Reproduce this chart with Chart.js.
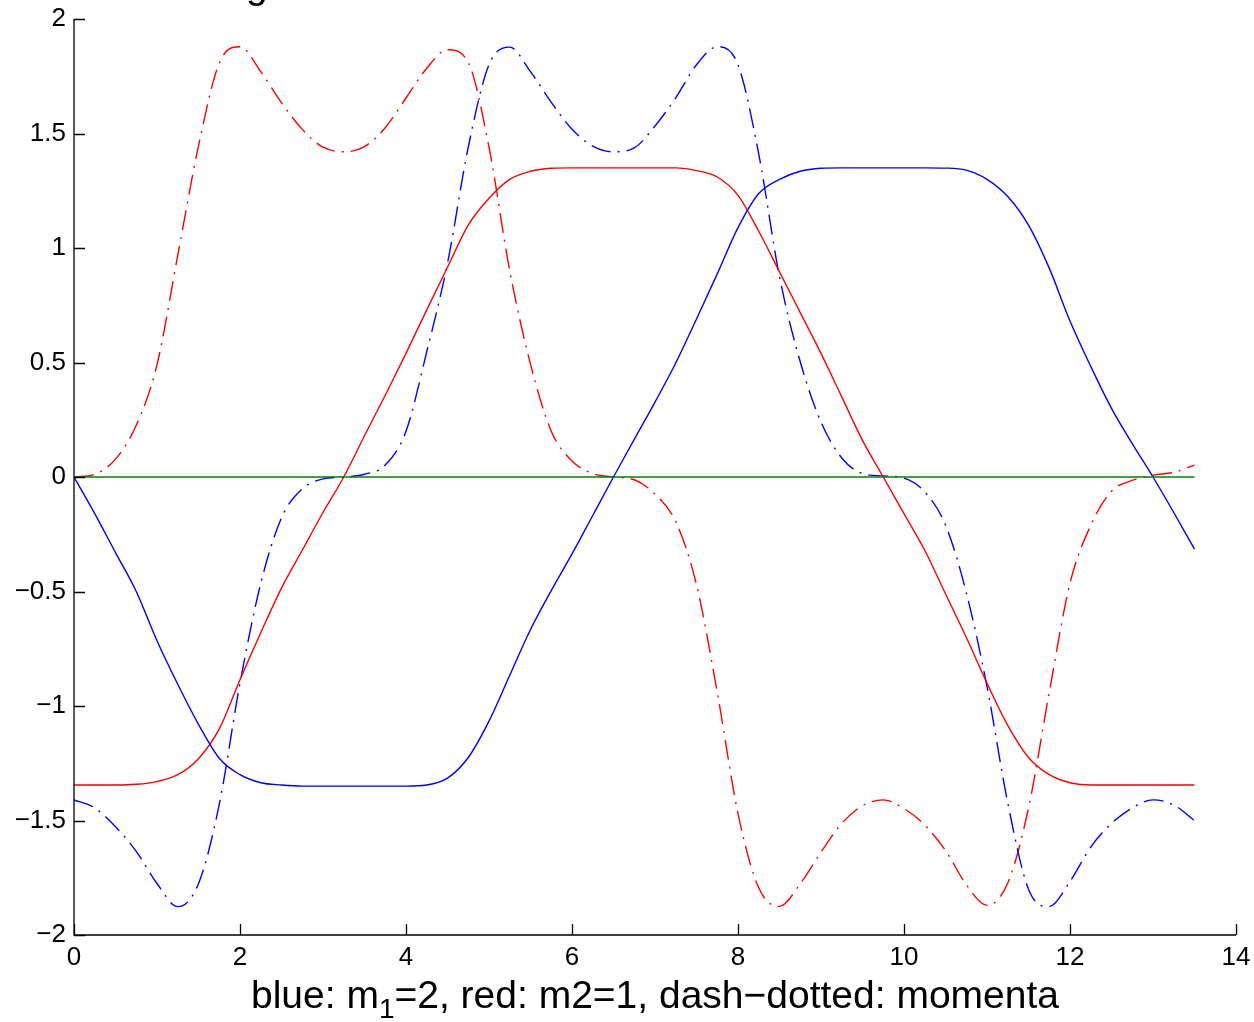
<!DOCTYPE html>
<html>
<head>
<meta charset="utf-8">
<script src="https://cdn.jsdelivr.net/npm/chart.js@4.4.0/dist/chart.umd.min.js"></script>
<style>
  html, body { margin: 0; padding: 0; background: #fff; }
  #plot { display: block; }
</style>
</head>
<body>
<canvas id="plot" width="1254" height="1022" style="width:1254px;height:1022px"></canvas>
<script>
// time samples
const t = [0, 0.25, 0.5, 0.75, 1, 1.25, 1.5, 1.75, 2, 2.25, 2.5, 2.75, 3, 3.25, 3.5, 3.75,
  4, 4.25, 4.5, 4.75, 5, 5.25, 5.5, 5.75, 6, 6.25, 6.5, 6.75, 7, 7.25, 7.5, 7.75,
  8, 8.25, 8.5, 8.75, 9, 9.25, 9.5, 9.75, 10, 10.25, 10.5, 10.75, 11, 11.25, 11.5, 11.75,
  12, 12.25, 12.5, 12.75, 13, 13.25, 13.5];

// positions
const q1 = [0, -0.16, -0.33, -0.5, -0.715, -0.905, -1.08, -1.228, -1.3, -1.335, -1.345, -1.35, -1.35, -1.35, -1.35, -1.35,
  -1.35, -1.345, -1.315, -1.225, -1.066, -0.866, -0.666, -0.496, -0.336, -0.168, 0, 0.164, 0.327, 0.498, 0.69, 0.887,
  1.089, 1.238, 1.3, 1.335, 1.348, 1.35, 1.35, 1.35, 1.35, 1.35, 1.349, 1.34, 1.3, 1.225, 1.1, 0.912,
  0.681, 0.483, 0.3, 0.146, 0, -0.155, -0.315];
const q2 = [-1.345, -1.345, -1.345, -1.342, -1.33, -1.3, -1.23, -1.1, -0.885, -0.68, -0.485, -0.32, -0.155, 0, 0.18, 0.357,
  0.54, 0.73, 0.916, 1.1, 1.217, 1.3, 1.335, 1.348, 1.35, 1.35, 1.35, 1.35, 1.35, 1.35, 1.338, 1.31,
  1.23, 1.073, 0.896, 0.718, 0.54, 0.35, 0.16, 0, -0.16, -0.32, -0.51, -0.7, -0.9, -1.085, -1.225, -1.3,
  -1.335, -1.345, -1.345, -1.345, -1.345, -1.345, -1.345];

// momenta
const p1 = [-1.41, -1.445, -1.527, -1.635, -1.775, -1.876, -1.776, -1.43, -0.9, -0.465, -0.178, -0.052, -0.008, 0, 0.012, 0.052,
  0.2, 0.547, 0.933, 1.44, 1.8, 1.877, 1.77, 1.636, 1.519, 1.445, 1.42, 1.437, 1.533, 1.656, 1.8, 1.879,
  1.8, 1.41, 0.875, 0.503, 0.24, 0.083, 0.015, 0.005, -0.005, -0.065, -0.21, -0.504, -0.915, -1.423, -1.8, -1.876,
  -1.766, -1.616, -1.513, -1.445, -1.41, -1.432, -1.5];
const p2 = [0, 0.012, 0.078, 0.226, 0.49, 0.968, 1.446, 1.807, 1.879, 1.77, 1.634, 1.518, 1.44, 1.42, 1.443, 1.525,
  1.655, 1.785, 1.866, 1.81, 1.44, 0.9, 0.493, 0.2, 0.07, 0.015, 0, -0.012, -0.075, -0.195, -0.47, -0.94,
  -1.47, -1.794, -1.875, -1.776, -1.638, -1.513, -1.435, -1.41, -1.448, -1.52, -1.631, -1.78, -1.87, -1.773, -1.446, -0.94,
  -0.464, -0.211, -0.062, -0.015, 0.008, 0.02, 0.052];
const zeroLine = t.map(() => 0);

const xLabelParts = ['blue: m', '1', '=2, red: m2=1, dash\u2212dotted: momenta'];

const FONT = '"Liberation Sans", Arial, Helvetica, sans-serif';
const dashDot = [20, 7, 2, 7];

function pts(ys) {
  return t.map((x, i) => ({ x: x, y: ys[i] }));
}

// inward tick marks, axis lines, xlabel with subscript
const matlabAxes = {
  id: 'matlabAxes',
  afterDraw(chart) {
    const { ctx, chartArea, scales } = chart;
    const { left, right, top, bottom } = chartArea;
    ctx.save();
    ctx.strokeStyle = '#000';
    ctx.lineWidth = 1.3;
    ctx.beginPath();
    ctx.moveTo(left, top);
    ctx.lineTo(left, bottom);
    ctx.lineTo(right, bottom);
    scales.x.ticks.forEach(tk => {
      const px = Math.round(scales.x.getPixelForValue(tk.value)) + 0.5;
      ctx.moveTo(px, bottom);
      ctx.lineTo(px, bottom - 11);
    });
    scales.y.ticks.forEach(tk => {
      const py = Math.round(scales.y.getPixelForValue(tk.value)) + 0.5;
      ctx.moveTo(left, py);
      ctx.lineTo(left + 11, py);
    });
    ctx.stroke();

    // x label
    const big = '39px ' + FONT;
    const small = '28px ' + FONT;
    ctx.fillStyle = '#000';
    ctx.textBaseline = 'alphabetic';
    ctx.textAlign = 'left';
    ctx.font = big;
    const w1 = ctx.measureText(xLabelParts[0]).width;
    const w3 = ctx.measureText(xLabelParts[2]).width;
    ctx.font = small;
    const w2 = ctx.measureText(xLabelParts[1]).width;
    let x = (left + right) / 2 - (w1 + w2 + w3) / 2;
    const base = 1008;
    ctx.font = big;
    ctx.fillText(xLabelParts[0], x, base);
    x += w1;
    ctx.font = small;
    ctx.fillText(xLabelParts[1], x, base + 10);
    x += w2;
    ctx.font = big;
    ctx.fillText(xLabelParts[2], x, base);

    // title runs off the top edge
    ctx.fillText('g', 246, -2);
    ctx.restore();
  }
};

new Chart(document.getElementById('plot'), {
  type: 'line',
  data: {
    datasets: [
      { data: pts(zeroLine), borderColor: '#008000' },
      { data: pts(q1), borderColor: '#0000ff' },
      { data: pts(q2), borderColor: '#ff0000' },
      { data: pts(p1), borderColor: '#0000ff', borderDash: dashDot },
      { data: pts(p2), borderColor: '#ff0000', borderDash: dashDot }
    ]
  },
  options: {
    responsive: false,
    animation: false,
    parsing: false,
    layout: { padding: { left: 0, top: 19, right: 18, bottom: 0 } },
    elements: {
      point: { radius: 0 },
      line: { borderWidth: 1.4, cubicInterpolationMode: 'monotone', fill: false }
    },
    plugins: {
      legend: { display: false },
      tooltip: { enabled: false }
    },
    scales: {
      x: {
        type: 'linear',
        min: 0,
        max: 14,
        grid: { display: false, drawTicks: false },
        border: { display: false },
        ticks: {
          stepSize: 2,
          padding: 7,
          color: '#000',
          maxRotation: 0,
          font: { family: FONT, size: 26 }
        },
        afterFit(scale) {
          scale.height = 87;
          scale.paddingLeft = 0;
          scale.paddingRight = 0;
        }
      },
      y: {
        type: 'linear',
        min: -2,
        max: 2,
        grid: { display: false, drawTicks: false },
        border: { display: false },
        ticks: {
          stepSize: 0.5,
          padding: 8,
          color: '#000',
          font: { family: FONT, size: 26 },
          callback: v => String(v).replace('-', '\u2212')
        },
        afterFit(scale) {
          scale.width = 74;
          scale.paddingTop = 0;
          scale.paddingBottom = 0;
        }
      }
    }
  },
  plugins: [matlabAxes]
});
</script>
</body>
</html>
